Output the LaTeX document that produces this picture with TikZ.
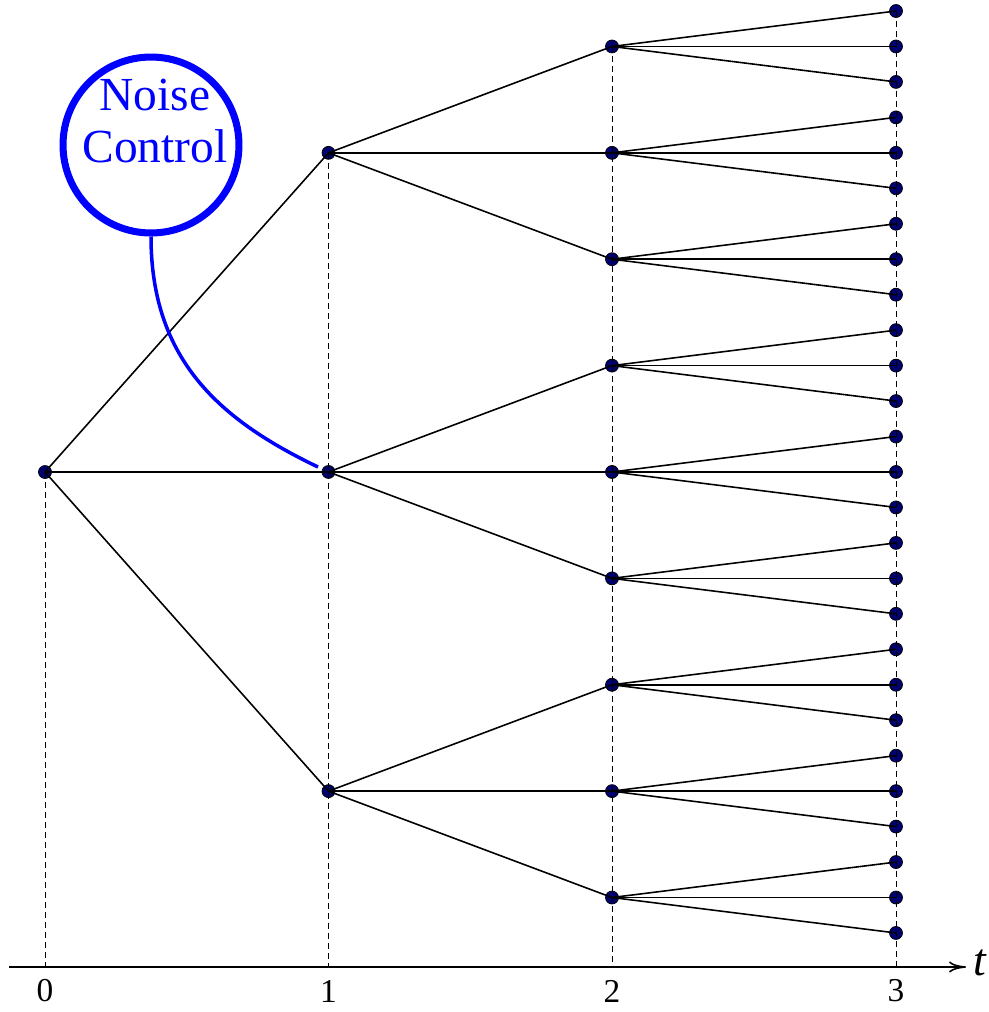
\documentclass[tikz,border=0pt]{standalone}
\usepackage{fontspec}
\setmainfont{Liberation Serif}
\usetikzlibrary{arrows.meta}
\definecolor{dotblue}{RGB}{0,0,110}
\definecolor{ncblue}{RGB}{0,0,255}
\begin{document}
\begin{tikzpicture}[x=0.02cm,y=-0.02cm,
  dot/.style={circle,fill=dotblue,draw=black,line width=0.4pt,inner sep=0pt,minimum size=0.26cm},
  edge/.style={line width=0.9pt},
  guide/.style={line width=0.5pt,dash pattern=on 0.12cm off 0.08cm},
  ticklab/.style={font=\fontsize{19}{22}\selectfont},
  nctext/.style={text=ncblue,font=\fontsize{27}{31}\selectfont,anchor=base,inner sep=0pt}]
\useasboundingbox (0,0) rectangle (989,1012);
% axis
\coordinate (ax0) at (9,967);
\coordinate (ax1) at (966,967);
\coordinate (tick0) at (45,967);
\coordinate (tick1) at (328.5,967);
\coordinate (tick2) at (612,967);
\coordinate (tick3) at (896,967);
\draw[line width=0.9pt,-{To[length=0.34cm,width=0.22cm]}] (ax0) -- (ax1);
\node[ticklab] (l0) at (45,991) {0};
\node[ticklab] (l1) at (328.5,991) {1};
\node[ticklab] (l2) at (612,991) {2};
\node[ticklab] (l3) at (896,991) {3};
\node[font=\fontsize{26}{30}\selectfont\itshape] (tl) at (980,963) {t};
% nodes
\node[dot] (r) at (45,472) {};
\foreach \k in {0,1,2} \node[dot] (a\k) at (328.5,{11+35.46*(9*\k+4)}) {};
\foreach \j in {0,...,8} \node[dot] (b\j) at (612,{11+35.46*(3*\j+1)}) {};
\foreach \i in {0,...,26} \node[dot] (c\i) at (896,{11+35.46*\i}) {};
% guides
\draw[guide] (r.center) -- (tick0);
\draw[guide] (a0.center) -- (tick1);
\draw[guide] (b0.center) -- (tick2);
\draw[guide] (c0.center) -- (tick3);
% edges
\foreach \k in {0,1,2} \draw[edge] (r.center) -- (a\k.center);
\foreach \j in {0,...,8} {\pgfmathtruncatemacro\p{\j/3}\draw[edge] (a\p.center) -- (b\j.center);}
\foreach \i in {0,...,26} {\pgfmathtruncatemacro\p{\i/3}\draw[edge] (b\p.center) -- (c\i.center);}
% noise control
\node[circle,draw=ncblue,line width=4pt,inner sep=0pt,minimum size=3.52cm] (nc) at (151,145) {};
\node[nctext] (nc1) at (155,110) {Noise};
\node[nctext] (nc2) at (155,162) {Control};
\coordinate (ncend) at (318,467);
\draw[ncblue,line width=2pt] (nc.south) .. controls (151,360) and (220,420) .. (ncend);
\end{tikzpicture}
\end{document}
